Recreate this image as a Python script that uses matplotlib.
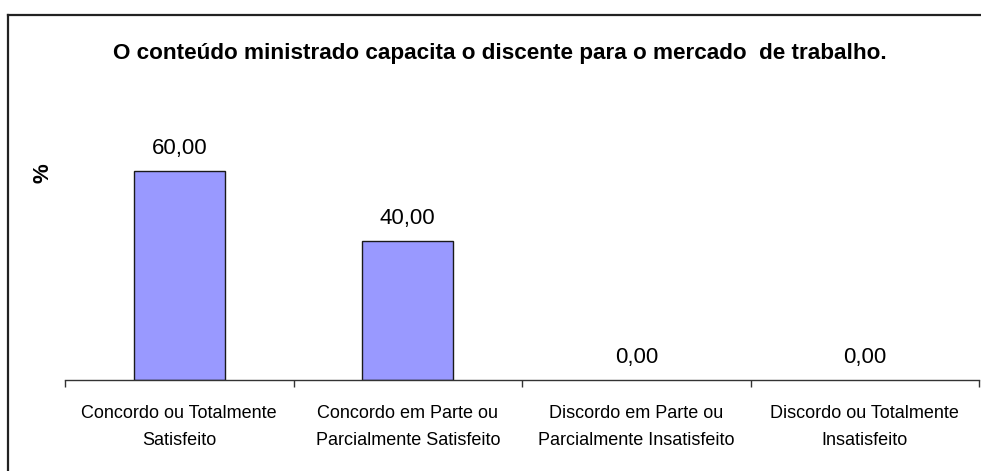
import matplotlib
matplotlib.use('Agg')
import matplotlib.pyplot as plt
from matplotlib.lines import Line2D

plt.rcParams['font.family'] = ['Liberation Sans', 'DejaVu Sans']

# survey answers (%)
categorias = ['Concordo ou Totalmente\nSatisfeito',
              'Concordo em Parte ou\nParcialmente Satisfeito',
              'Discordo em Parte ou\nParcialmente Insatisfeito',
              'Discordo ou Totalmente\nInsatisfeito']
valores = [60.0, 40.0, 0.0, 0.0]
titulo = 'O conteúdo ministrado capacita o discente para o mercado  de trabalho.'

W, H = 981, 471
fig = plt.figure(figsize=(W / 100, H / 100), dpi=100)

# plot area in pixels: x 65..979, baseline at y=380
ax = fig.add_axes([65 / W, (H - 380) / H, (979 - 65) / W, (380 - 101) / H])
x = list(range(len(valores)))
bordas = [1.0 if v > 0 else 0.0 for v in valores]
ax.bar(x, valores, width=0.40, color='#9999FF', edgecolor='#1a1a1a', linewidth=bordas)
ax.set_xlim(-0.5, len(valores) - 0.5)
ax.set_ylim(0, 80)

for xi, v in zip(x, valores):
    ax.annotate(f'{v:.2f}'.replace('.', ','), (xi, v), xytext=(0, 16),
                textcoords='offset points', ha='center', va='center', fontsize=16)

for s in ['top', 'right', 'left']:
    ax.spines[s].set_visible(False)
ax.spines['bottom'].set_color('#333333')
ax.spines['bottom'].set_linewidth(1.0)
ax.set_yticks([])
ax.set_xticks(x)
ax.set_xticklabels(categorias, fontsize=13, linespacing=1.8)
ax.tick_params(axis='x', which='major', length=0, pad=18)
ax.set_xticks([i - 0.5 for i in range(len(valores) + 1)], minor=True)
ax.tick_params(axis='x', which='minor', length=5, width=1.0, color='#333333', direction='out')

fig.text(43 / W, 1 - 173 / H, '%', rotation=90, ha='center', va='center',
         fontsize=16, fontweight='bold')
fig.text(500 / W, 1 - 53 / H, titulo, ha='center', va='center',
         fontsize=16.2, fontweight='bold')

# outer chart frame (right and bottom edges fall outside the image)
fig.add_artist(Line2D([8 / W, 8 / W], [0, 1 - 15 / H], transform=fig.transFigure,
                      color='#222222', linewidth=1.6))
fig.add_artist(Line2D([8 / W, 1], [1 - 15 / H, 1 - 15 / H], transform=fig.transFigure,
                      color='#222222', linewidth=1.6))

fig.savefig('out.png', dpi=100)
